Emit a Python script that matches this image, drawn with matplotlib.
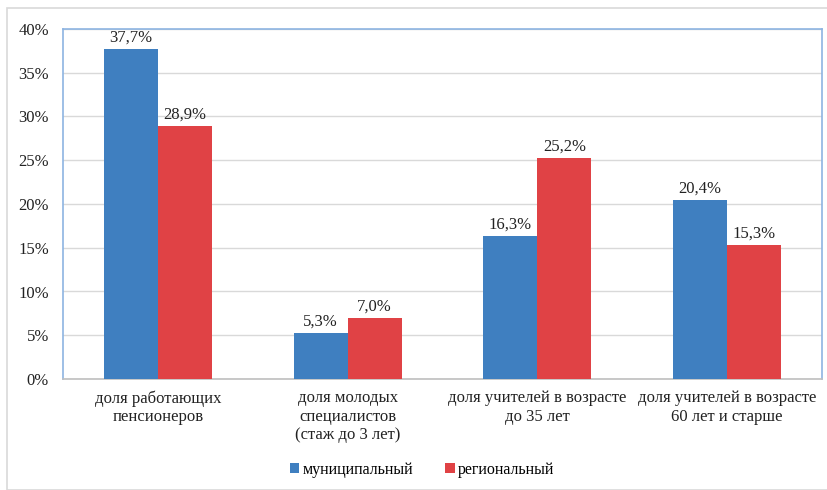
import matplotlib
matplotlib.use("Agg")
import matplotlib.pyplot as plt
import numpy as np
from matplotlib.patches import Rectangle

categories = ["доля работающих\nпенсионеров",
              "доля молодых\nспециалистов\n(стаж до 3 лет)",
              "доля учителей в возрасте\nдо 35 лет",
              "доля учителей в возрасте\n60 лет и старше"]
municipal = [37.7, 5.3, 16.3, 20.4]
regional = [28.9, 7.0, 25.2, 15.3]
series_names = ["муниципальный", "региональный"]
yticks = [0, 5, 10, 15, 20, 25, 30, 35, 40]

plt.rcParams['font.family'] = ['Liberation Serif', 'DejaVu Serif']

fig = plt.figure(figsize=(8.28, 4.9), dpi=100)
W, H = 828, 490
ax = fig.add_axes([63/W, 1-379/H, (822-63)/W, (379-29)/H])

# outer border
fig.patches.append(Rectangle((7/W, 0), (W-7)/W, 1-8/H, transform=fig.transFigure,
                             fill=False, edgecolor='#D9D9D9', linewidth=1.2))

x = np.arange(len(categories))
w = 0.285
c1, c2 = '#3F7FC0', '#E04245'
b1 = ax.bar(x - w/2, municipal, w, color=c1, label=series_names[0], zorder=3)
b2 = ax.bar(x + w/2, regional, w, color=c2, label=series_names[1], zorder=3)

for bars, vals in ((b1, municipal), (b2, regional)):
    for b, v in zip(bars, vals):
        ax.annotate(f"{v:.1f}%".replace('.', ','), (b.get_x() + b.get_width()/2, v),
                    xytext=(0, 2.5), textcoords='offset points', ha='center', va='bottom',
                    fontsize=12, color='#222222')

ax.set_xlim(-0.5, len(categories) - 0.5)
ax.set_ylim(0, 40)
ax.set_yticks(yticks)
ax.set_yticklabels([f"{t}%" for t in yticks], fontsize=12, color='#222222')
ax.set_xticks(x)
ax.set_xticklabels(categories, fontsize=12, color='#222222', linespacing=1.2)
ax.tick_params(axis='x', length=0, pad=8)
ax.tick_params(axis='y', length=0, pad=10)
ax.grid(axis='y', color='#D9D9D9', linewidth=1, zorder=0)
for s in ax.spines.values():
    s.set_color('#8DB4E2')
    s.set_linewidth(1.2)
ax.spines['bottom'].set_color('#BFBFBF')

fig.legend(handles=[b1, b2], labels=series_names, loc='center', bbox_to_anchor=(422/W, 1-470/H),
           ncol=2, frameon=False, fontsize=11.5, handlelength=0.6, handleheight=0.6,
           handletextpad=0.2, columnspacing=2.0)

fig.savefig("out.png", dpi=100)
